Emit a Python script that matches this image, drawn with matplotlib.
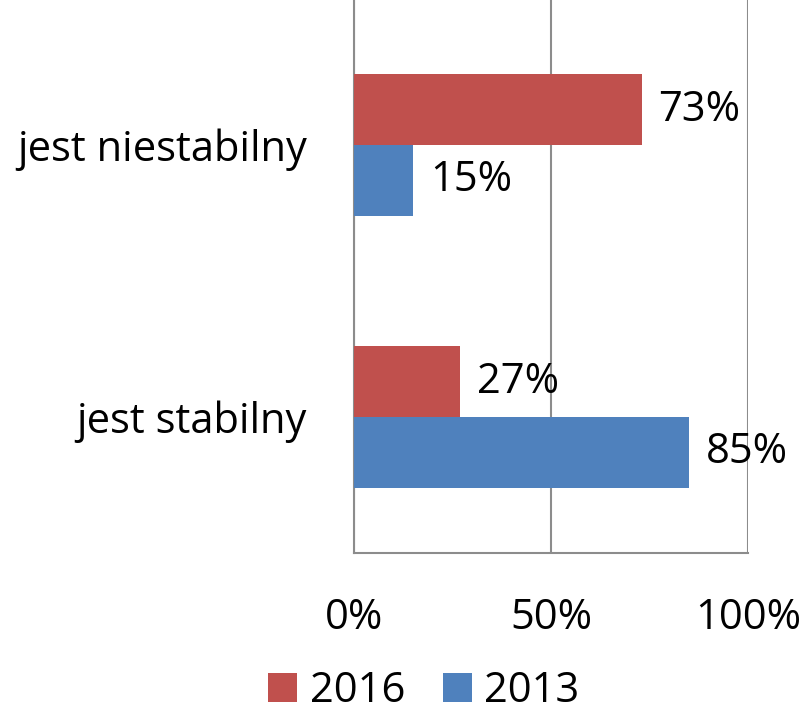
import matplotlib
matplotlib.use("Agg")
import matplotlib.pyplot as plt
from matplotlib.patches import Patch

categories = ["jest stabilny", "jest niestabilny"]
series_names = ["2016", "2013"]
values_2016 = [27, 73]
values_2013 = [85, 15]
xtick_values = [0, 50, 100]
xtick_labels = ["0%", "50%", "100%"]
colors = {"2016": "#C0504D", "2013": "#4F81BD"}

plt.rcParams['font.family'] = ['Open Sans', 'DejaVu Sans']
FS = 30

fig = plt.figure(figsize=(8.04, 7.14), dpi=100)
ax = fig.add_axes([354/804, 161/714, 394/804, 553/714])

h = 0.26
ypos = list(range(len(categories)))
b16 = ax.barh([y + h/2 for y in ypos], values_2016, height=h, color=colors["2016"], zorder=3)
b13 = ax.barh([y - h/2 for y in ypos], values_2013, height=h, color=colors["2013"], zorder=3)

for bars, vals in ((b16, values_2016), (b13, values_2013)):
    for bar, v in zip(bars, vals):
        ax.annotate(f"{v}%", (bar.get_width(), bar.get_y() + bar.get_height()/2),
                    xytext=(12, 0), textcoords="offset points", va="center", ha="left",
                    fontsize=FS, color="black")

ax.set_xlim(0, 100)
ax.set_ylim(-0.5, -0.5 + 553/272)
ax.set_xticks(xtick_values)
ax.set_xticklabels(xtick_labels, fontsize=FS)
ax.set_yticks(ypos)
ax.set_yticklabels(categories, fontsize=FS)
ax.tick_params(axis='x', length=0, pad=32)
ax.tick_params(axis='y', length=0, pad=34)
ax.grid(axis='x', color="#8c8c8c", linewidth=1.5, zorder=0)
for s in ["top", "right"]:
    ax.spines[s].set_visible(False)
for s in ["left", "bottom"]:
    ax.spines[s].set_color("#8c8c8c")
    ax.spines[s].set_linewidth(1.5)

handles = [Patch(facecolor=colors[n], edgecolor="none") for n in series_names]
fig.legend(handles, series_names, loc="lower center", bbox_to_anchor=(0.527, 0.0), ncol=2,
           frameon=False, fontsize=FS, handlelength=0.7, handleheight=0.7,
           handletextpad=0.3, columnspacing=0.9, borderaxespad=0, borderpad=0.05)

fig.savefig("out.png", dpi=100)
